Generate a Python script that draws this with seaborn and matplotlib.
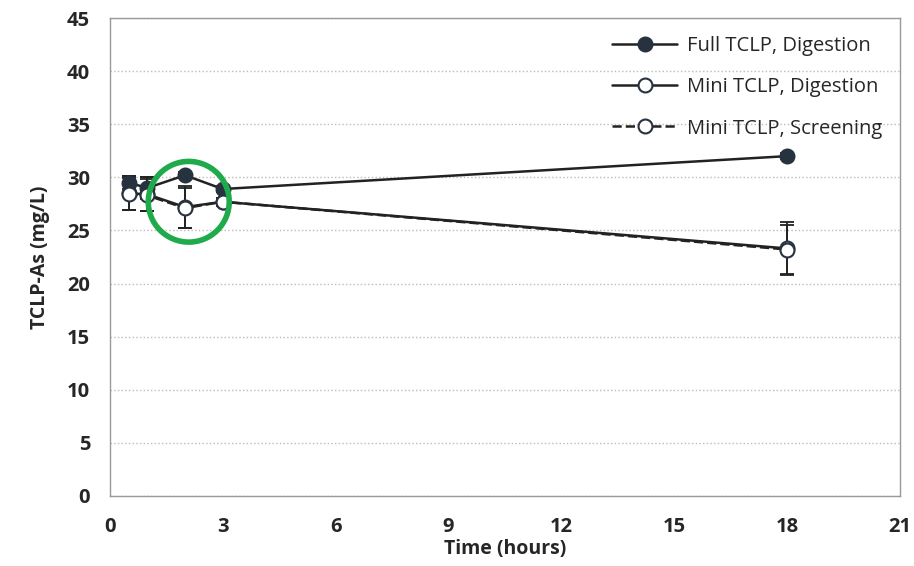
import pandas as pd
import seaborn as sns
import matplotlib.pyplot as plt
from matplotlib.patches import Ellipse

# data
time_h = [0.5, 1, 2, 3, 18]
full_dig = [29.5, 29.0, 30.2, 28.9, 32.0]
full_err = [0.6, 1.0, 0.3, 0.3, 0.3]
mini_dig = [28.5, 28.4, 27.2, 27.7, 23.3]
mini_dig_err = [1.6, 1.6, 2.0, 0.4, 2.5]
mini_scr = [28.4, 28.3, 27.1, 27.7, 23.2]
mini_scr_err = [1.5, 1.5, 1.9, 0.4, 2.3]

series = ["Full TCLP, Digestion", "Mini TCLP, Digestion", "Mini TCLP, Screening"]
dark = "#27323f"

sns.set_style("white")
plt.rcParams["font.family"] = ["Open Sans", "DejaVu Sans"]

fig = plt.figure(figsize=(9.14, 5.66), dpi=100)
ax = fig.add_axes([0.12, 0.124, 0.865, 0.844])

styles = [
    (full_dig, full_err, dark, "-"),
    (mini_dig, mini_dig_err, "white", "-"),
    (mini_scr, mini_scr_err, "white", "--"),
]
for name, (vals, errs, fc, ls) in zip(series, styles):
    df = pd.DataFrame({"time": time_h, "val": vals})
    ax.errorbar(df["time"], df["val"], yerr=errs, fmt="none", ecolor="#222222",
                elinewidth=1.3, capsize=5, capthick=1.3, zorder=2)
    sns.lineplot(data=df, x="time", y="val", ax=ax, color="#222222", linestyle=ls,
                 linewidth=1.8, marker="o", markersize=10, markerfacecolor=fc,
                 markeredgecolor=dark, markeredgewidth=1.5, label=name, zorder=3)

# green highlight circle
ax.add_patch(Ellipse((2.1, 27.7), 2.15, 7.6, fill=False, edgecolor="#1faa4b",
                     linewidth=4, zorder=5))

ax.set_xlim(0, 21)
ax.set_ylim(0, 45)
ax.set_xticks(range(0, 22, 3))
ax.set_yticks(range(0, 46, 5))
ax.tick_params(axis="both", labelsize=14.5, length=4, color="#888888", direction="in")
ax.tick_params(axis="x", pad=15)
ax.tick_params(axis="y", pad=14)
for lab in ax.get_xticklabels() + ax.get_yticklabels():
    lab.set_fontweight("bold")
ax.set_xlabel("Time (hours)", fontsize=14, fontweight="bold", labelpad=2)
ax.set_ylabel("TCLP-As (mg/L)", fontsize=14, fontweight="bold", labelpad=12)
ax.yaxis.grid(True, linestyle=":", color="#bbbbbb", linewidth=1)
for sp in ax.spines.values():
    sp.set_color("#999999")
    sp.set_linewidth(1)

ax.legend(loc="upper right", frameon=False, fontsize=14.5, handlelength=3.2,
          labelspacing=1.05, borderaxespad=0.5, handletextpad=0.5)

plt.savefig("out.png", dpi=100)
